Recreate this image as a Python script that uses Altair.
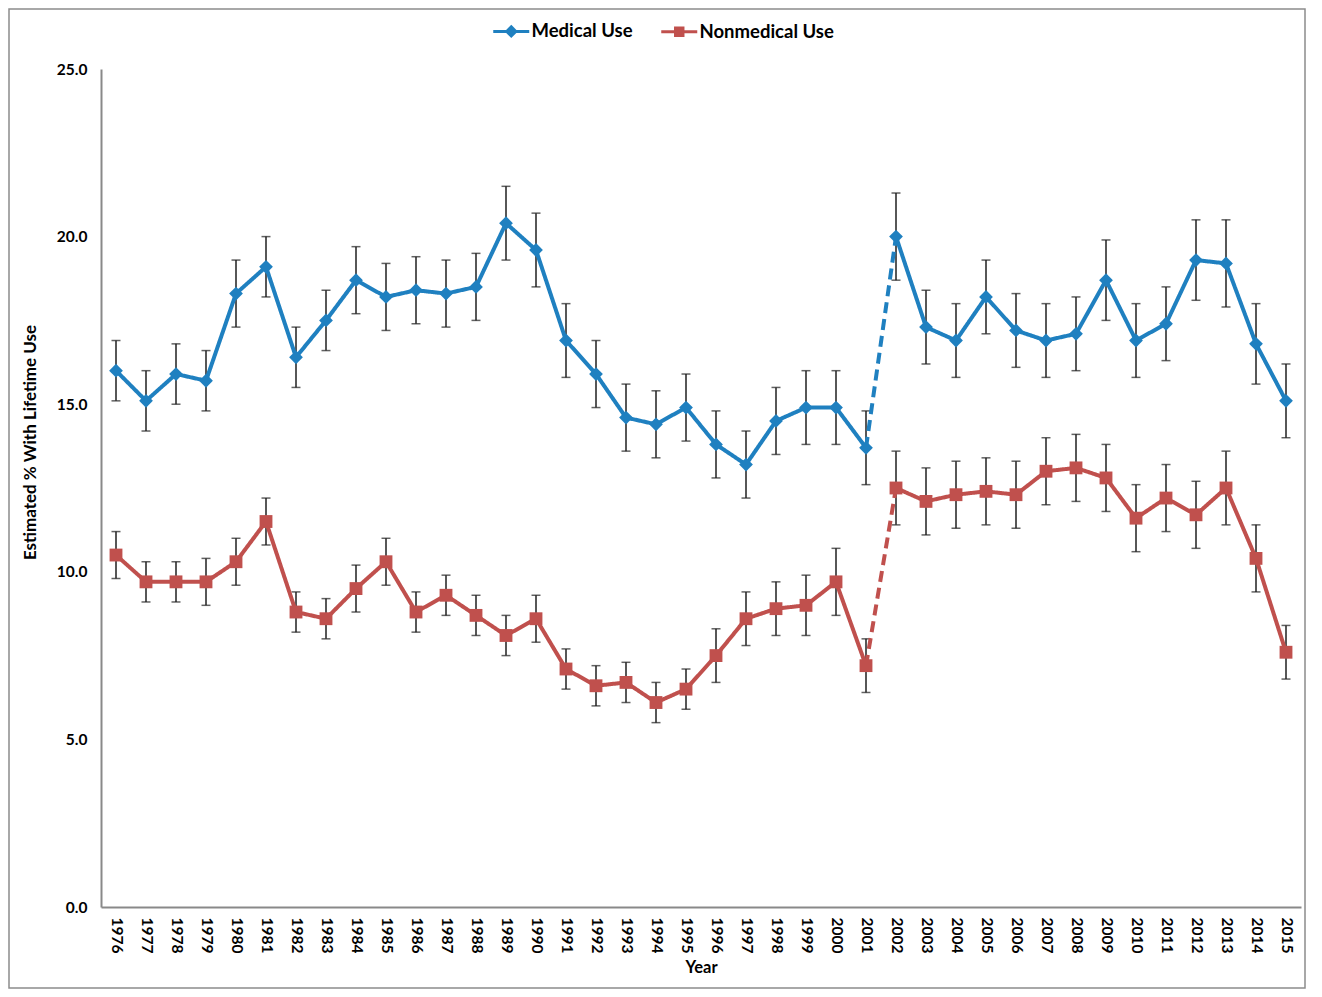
import altair as alt
import pandas as pd

years = list(range(1976, 2016))

medical = [16.0, 15.1, 15.9, 15.7, 18.3, 19.1, 16.4, 17.5, 18.7, 18.2,
           18.4, 18.3, 18.5, 20.4, 19.6, 16.9, 15.9, 14.6, 14.4, 14.9,
           13.8, 13.2, 14.5, 14.9, 14.9, 13.7, 20.0, 17.3, 16.9, 18.2,
           17.2, 16.9, 17.1, 18.7, 16.9, 17.4, 19.3, 19.2, 16.8, 15.1]
medical_lo = [15.1, 14.2, 15.0, 14.8, 17.3, 18.2, 15.5, 16.6, 17.7, 17.2,
              17.4, 17.3, 17.5, 19.3, 18.5, 15.8, 14.9, 13.6, 13.4, 13.9,
              12.8, 12.2, 13.5, 13.8, 13.8, 12.6, 18.7, 16.2, 15.8, 17.1,
              16.1, 15.8, 16.0, 17.5, 15.8, 16.3, 18.1, 17.9, 15.6, 14.0]
medical_hi = [16.9, 16.0, 16.8, 16.6, 19.3, 20.0, 17.3, 18.4, 19.7, 19.2,
              19.4, 19.3, 19.5, 21.5, 20.7, 18.0, 16.9, 15.6, 15.4, 15.9,
              14.8, 14.2, 15.5, 16.0, 16.0, 14.8, 21.3, 18.4, 18.0, 19.3,
              18.3, 18.0, 18.2, 19.9, 18.0, 18.5, 20.5, 20.5, 18.0, 16.2]

nonmedical = [10.5, 9.7, 9.7, 9.7, 10.3, 11.5, 8.8, 8.6, 9.5, 10.3,
              8.8, 9.3, 8.7, 8.1, 8.6, 7.1, 6.6, 6.7, 6.1, 6.5,
              7.5, 8.6, 8.9, 9.0, 9.7, 7.2, 12.5, 12.1, 12.3, 12.4,
              12.3, 13.0, 13.1, 12.8, 11.6, 12.2, 11.7, 12.5, 10.4, 7.6]
nonmedical_lo = [9.8, 9.1, 9.1, 9.0, 9.6, 10.8, 8.2, 8.0, 8.8, 9.6,
                 8.2, 8.7, 8.1, 7.5, 7.9, 6.5, 6.0, 6.1, 5.5, 5.9,
                 6.7, 7.8, 8.1, 8.1, 8.7, 6.4, 11.4, 11.1, 11.3, 11.4,
                 11.3, 12.0, 12.1, 11.8, 10.6, 11.2, 10.7, 11.4, 9.4, 6.8]
nonmedical_hi = [11.2, 10.3, 10.3, 10.4, 11.0, 12.2, 9.4, 9.2, 10.2, 11.0,
                 9.4, 9.9, 9.3, 8.7, 9.3, 7.7, 7.2, 7.3, 6.7, 7.1,
                 8.3, 9.4, 9.7, 9.9, 10.7, 8.0, 13.6, 13.1, 13.3, 13.4,
                 13.3, 14.0, 14.1, 13.8, 12.6, 13.2, 12.7, 13.6, 11.4, 8.4]

series_names = ["Medical Use", "Nonmedical Use"]
series_colors = ["#1F80C0", "#C0504D"]
series_shapes = ["diamond", "square"]
series_sizes = [190, 165]
legend_paths = [
    "M-3,0L3,0M0,-0.75L0.75,0L0,0.75L-0.75,0Z M0,-0.35L0.35,0L0,0.35L-0.35,0Z",
    "M-3,0L3,0M-0.62,-0.62L0.62,-0.62L0.62,0.62L-0.62,0.62Z"
    "M-0.62,-0.33L0.62,-0.33M-0.62,0.33L0.62,0.33",
]
break_after = 2001

rows = []
for name, vals, los, his in [
    (series_names[0], medical, medical_lo, medical_hi),
    (series_names[1], nonmedical, nonmedical_lo, nonmedical_hi),
]:
    for yr, v, lo, hi in zip(years, vals, los, his):
        rows.append({"series": name, "year": str(yr), "value": v, "lo": lo, "hi": hi})
df = pd.DataFrame(rows)

seg_rows = []
for r in rows:
    yr = int(r["year"])
    if yr <= break_after:
        seg_rows.append({**r, "seg": r["series"] + "-a", "dash": "solid"})
    else:
        seg_rows.append({**r, "seg": r["series"] + "-b", "dash": "solid"})
    if yr in (break_after, break_after + 1):
        seg_rows.append({**r, "seg": r["series"] + "-gap", "dash": "dashed"})
df_lines = pd.DataFrame(seg_rows)

FONT = "Lato"
year_labels = [str(y) for y in years]

x_enc = alt.X(
    "year:O",
    sort=year_labels,
    scale=alt.Scale(type="point", padding=0.5),
    axis=alt.Axis(
        title="Year", labelAngle=90, ticks=False, labelPadding=10,
        labelFont=FONT, labelFontWeight="bold", labelFontSize=15.5, labelColor="#000000",
        titleFont=FONT, titleFontWeight="bold", titleFontSize=16.5, titleColor="#000000",
        titlePadding=7, domainColor="#898989", domainWidth=2, grid=False,
    ),
)
y_scale = alt.Scale(domain=[0, 25], nice=False)
y_axis = alt.Axis(
    title="Estimated % With Lifetime Use", values=[0, 5, 10, 15, 20, 25], format=".1f",
    ticks=False, labelPadding=14, grid=False,
    labelFont=FONT, labelFontWeight="bold", labelFontSize=15.5, labelColor="#000000",
    titleFont=FONT, titleFontWeight="bold", titleFontSize=17, titleColor="#000000",
    titleX=-62, titleY=373, domainColor="#898989", domainWidth=2,
)

base = alt.Chart(df)

frame = alt.Chart(pd.DataFrame({"a": [0]})).mark_rect(
    fill="transparent", stroke="#8c8c8c", strokeWidth=1.5
).encode(x=alt.value(-92), x2=alt.value(1204), y=alt.value(-60), y2=alt.value(919))

err_rule = base.mark_rule(color="#1f1f1f", strokeWidth=1.5).encode(
    x=x_enc, y=alt.Y("lo:Q", scale=y_scale, axis=y_axis), y2="hi:Q"
)
err_lo = base.mark_tick(color="#1f1f1f", thickness=1.5, size=9).encode(
    x=x_enc, y=alt.Y("lo:Q", scale=y_scale)
)
err_hi = base.mark_tick(color="#1f1f1f", thickness=1.5, size=9).encode(
    x=x_enc, y=alt.Y("hi:Q", scale=y_scale)
)

line_layers = []
point_layers = []
for name, col, shp, sz in zip(series_names, series_colors, series_shapes, series_sizes):
    line_layers.append(
        alt.Chart(df_lines).transform_filter(alt.datum.series == name)
        .mark_line(strokeWidth=4, color=col)
        .encode(
            x=x_enc,
            y=alt.Y("value:Q", scale=y_scale),
            detail="seg:N",
            strokeDash=alt.StrokeDash(
                "dash:N", scale=alt.Scale(domain=["solid", "dashed"], range=[[1, 0], [11, 6]]),
                legend=None,
            ),
        )
    )
    point_layers.append(
        base.transform_filter(alt.datum.series == name)
        .mark_point(filled=True, size=sz, opacity=1, color=col, shape=shp)
        .encode(x=x_enc, y=alt.Y("value:Q", scale=y_scale))
    )

legend_def = alt.Legend(
    title=None, orient="none", legendX=401, legendY=-47, direction="horizontal",
    symbolSize=144, symbolStrokeWidth=3, labelOffset=11, columnPadding=22,
    labelFont=FONT, labelFontWeight="bold", labelFontSize=18.5, labelColor="#000000",
)

# helper layer that only carries the legend; its own marks sit outside the clipped view
legend_layer = base.transform_filter(alt.datum.year == "1976").mark_point(
    filled=False, strokeWidth=3, clip=True, opacity=1
).encode(
    x=x_enc,
    y=alt.value(-5000),
    color=alt.Color("series:N", scale=alt.Scale(domain=series_names, range=series_colors), legend=legend_def),
    shape=alt.Shape("series:N", scale=alt.Scale(domain=series_names, range=legend_paths), legend=legend_def),
)

chart = alt.layer(frame, err_rule, err_lo, err_hi, *line_layers, *point_layers, legend_layer).properties(
    width=1200, height=838,
    autosize=alt.AutoSizeParams(type="none"),
    padding={"left": 93, "top": 61, "right": 5, "bottom": 82},
    background="#ffffff",
).configure_view(stroke=None)

chart.save("out.html", embed_options={"renderer": "svg", "actions": False})
